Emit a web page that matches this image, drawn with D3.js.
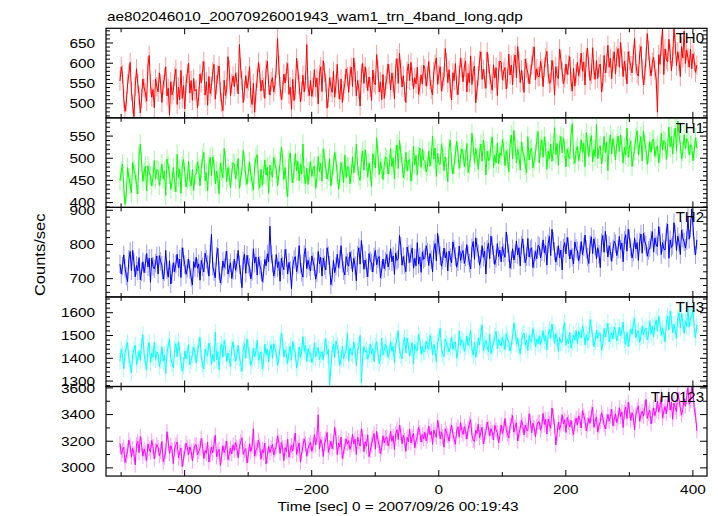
<!DOCTYPE html>
<html><head><meta charset="utf-8">
<script src="https://cdn.jsdelivr.net/npm/d3@7"></script>
<style>body{margin:0;background:#fff;}svg{display:block;}text{font-family:"Liberation Sans",Arial,Helvetica,sans-serif;fill:#000;}</style>
</head><body><svg id="c" width="718" height="516"></svg>
<script>
const title = "ae802046010_20070926001943_wam1_trn_4band_long.qdp";
const xLabel = "Time [sec] 0 = 2007/09/26 00:19:43";
const yLabel = "Counts/sec";
const seriesNames = ["TH0","TH1","TH2","TH3","TH0123"];
const timeStart = -501;
const binSize = 2;

const th0 = [
555,590,571,512,480,503,548,572,601,530,498,467,541,585,549,520,476,512,560,538,526,505,592,618,547,515,534,489,560,541,
528,575,548,502,545,563,590,518,537,471,553,521,532,566,584,497,540,509,581,512,544,486,548,573,599,525,556,507,561,530,
534,489,517,572,551,580,603,520,553,495,566,524,541,578,596,510,546,571,592,528,502,482,557,519,535,615,582,519,548,567,
541,575,552,523,645,587,556,502,531,568,537,555,590,514,497,549,478,526,562,601,574,530,557,539,512,583,604,546,520,553,
563,528,546,587,660,594,541,509,531,572,550,578,598,522,540,485,559,507,534,611,582,547,503,529,569,528,556,645,541,519,
556,517,539,583,540,562,498,571,590,529,605,576,552,488,514,563,541,527,579,515,547,596,534,510,560,502,531,548,585,566,
527,568,589,541,612,577,518,556,535,493,574,598,549,590,562,531,565,540,507,582,551,546,620,584,528,553,509,571,512,543,
560,597,572,533,575,551,511,586,610,549,624,583,540,568,529,502,579,597,556,601,566,535,563,548,589,522,541,570,548,594,
585,542,567,603,559,534,521,578,596,612,547,571,590,530,552,566,635,601,551,583,537,508,575,556,598,544,521,569,612,588,
553,589,604,528,574,551,617,546,579,592,501,533,568,605,627,559,584,560,537,626,598,571,548,532,595,562,588,519,580,604,
602,557,579,588,535,561,621,570,594,546,598,619,563,640,603,551,582,556,527,609,587,575,548,571,594,617,639,558,585,566,
566,603,585,541,589,612,628,573,549,552,606,581,520,590,568,561,634,607,578,548,563,597,571,594,615,553,530,586,542,573,
601,568,587,624,579,602,545,613,636,590,556,572,637,582,559,605,561,589,597,528,551,618,575,598,643,589,611,560,603,627,
572,616,635,589,650,611,566,604,582,548,627,605,593,575,618,660,598,573,567,621,640,584,545,569,612,672,631,590,568,601,
613,582,560,478,620,596,641,685,571,634,609,602,658,623,580,615,683,647,592,627,604,566,640,612,678,598,631,612,589,634,
585,622,603,576,594];

const th1 = [
448,470,486,432,395,421,478,455,439,421,489,472,462,440,418,503,531,490,447,468,481,425,482,466,459,437,455,494,452,473,
471,438,459,486,452,470,415,497,482,463,429,447,478,445,423,508,456,474,420,481,496,467,434,451,492,450,437,473,426,460,
464,491,475,437,476,498,512,448,466,425,483,501,459,502,484,441,470,452,419,488,470,455,521,493,446,478,460,432,467,489,
485,452,471,498,431,454,472,516,490,458,440,467,491,463,445,427,480,499,507,449,432,474,438,462,495,461,479,420,483,468,
456,501,485,473,437,460,489,524,497,451,478,436,412,495,511,466,443,474,509,470,492,448,486,463,531,459,441,477,440,468,
492,458,476,481,431,455,503,469,487,447,520,498,475,452,469,498,437,461,484,512,493,463,429,452,489,471,444,506,455,481,
478,441,463,502,466,488,531,483,458,449,497,515,472,518,491,456,488,470,435,509,494,477,545,508,462,491,475,451,483,502,
498,463,485,521,480,499,452,507,529,476,539,511,489,455,473,512,470,493,496,447,468,526,484,505,461,503,522,478,519,495,
492,468,481,515,481,503,549,497,522,458,510,487,485,530,512,471,502,478,446,521,540,489,463,485,508,537,511,476,499,520,
513,480,498,532,467,485,501,555,527,489,521,503,474,509,531,492,540,516,461,515,493,497,528,547,478,506,488,533,486,511,
505,541,523,482,516,499,468,530,551,497,562,529,488,519,505,472,536,514,504,483,466,548,495,517,521,477,494,510,538,559,
488,523,540,501,547,526,474,515,497,531,492,514,568,507,532,483,529,548,511,545,521,479,520,502,498,552,577,505,487,516,
526,494,512,541,512,533,480,557,529,503,534,550,491,519,503,575,498,521,527,486,507,548,512,536,471,530,552,509,543,524,
495,532,549,514,551,527,488,523,506,567,501,524,538,480,503,516,545,561,507,529,548,493,560,535,518,485,509,536,512,540,
541,503,520,527,489,511,555,518,539,536,496,522,569,524,548,508,545,567,515,583,551,530,497,514,552,521,543,538,506,529,
528,493,517,545,522];

const th2 = [
741,712,735,768,729,706,690,755,778,722,781,747,704,737,721,760,695,719,748,716,742,772,733,758,688,759,735,727,744,765,
712,766,749,738,697,719,781,724,703,751,683,712,745,719,741,770,731,756,702,789,762,740,711,729,756,725,702,680,748,731,
761,729,742,694,752,733,718,773,755,740,706,771,828,735,719,701,764,787,722,686,708,750,731,752,779,712,729,745,699,723,
756,723,744,781,739,712,672,751,770,714,767,741,732,698,719,786,744,762,709,761,738,725,690,713,755,736,771,748,852,769,
744,706,727,769,731,748,691,758,736,725,784,759,712,746,723,669,737,754,763,719,740,795,741,717,703,770,788,728,752,734,
721,765,748,733,697,715,778,742,761,706,759,737,724,789,766,738,681,703,752,716,735,770,731,754,795,744,722,709,763,745,
735,776,754,719,758,737,692,767,789,741,810,771,726,753,730,704,772,751,745,718,762,781,739,757,763,701,724,756,728,749,
769,733,751,786,748,765,711,774,752,757,825,794,738,763,740,719,791,770,746,772,788,729,758,736,804,741,762,717,777,755,
760,795,776,737,772,754,718,783,801,751,831,797,766,735,752,788,759,776,721,779,760,745,806,784,763,732,748,794,752,771,
781,743,762,798,766,744,727,789,807,755,818,790,772,738,756,795,761,779,712,784,803,757,823,795,769,740,758,801,763,782,
748,792,774,761,835,801,774,729,752,786,753,771,809,768,789,736,797,815,771,745,763,816,762,784,789,731,755,778,757,796,
793,759,777,812,774,795,738,801,822,766,843,808,779,747,765,795,760,782,724,788,804,771,819,792,756,783,761,742,806,787,
780,751,769,807,769,791,826,784,762,743,798,821,772,815,794,757,789,770,731,804,825,776,837,801,762,795,778,749,786,808,
801,766,784,822,784,803,748,811,827,779,843,815,791,759,776,818,785,804,752,806,829,773,831,808,797,764,781,789,812,836,
776,818,797,792,851,822,769,804,786,782,835,858,758,812,790,796,862,829,781,823,804,769,841,817,806,788,810,878,814,846,
902,851,795,768,812];

const th3 = [
1385,1438,1411,1352,1421,1446,1467,1397,1372,1334,1412,1435,1455,1371,1399,1428,1389,1452,1502,1415,1381,1348,1443,1467,1379,1420,1401,1468,1393,1426,
1417,1362,1390,1449,1386,1412,1331,1425,1453,1481,1398,1374,1356,1437,1462,1404,1470,1431,1382,1341,1366,1429,1395,1418,1458,1368,1389,1414,1447,1423,
1376,1423,1456,1490,1397,1372,1351,1438,1417,1409,1465,1441,1372,1415,1384,1512,1392,1427,1347,1431,1460,1403,1476,1445,1384,1421,1398,1361,1444,1470,
1419,1385,1408,1456,1402,1376,1340,1437,1462,1398,1483,1440,1411,1366,1391,1442,1405,1429,1477,1389,1412,1426,1352,1381,1460,1414,1437,1381,1435,1458,
1398,1462,1440,1421,1367,1394,1448,1509,1471,1403,1436,1413,1375,1425,1452,1390,1471,1438,1419,1356,1381,1447,1402,1426,1493,1428,1455,1384,1440,1417,
1421,1378,1402,1466,1403,1429,1445,1392,1414,1427,1392,1448,1484,1415,1437,1281,1358,1439,1461,1401,1474,1452,1420,1367,1395,1452,1396,1418,1431,1509,
1387,1443,1421,1412,1470,1439,1366,1428,1455,1498,1290,1405,1449,1426,1432,1394,1417,1461,1418,1440,1383,1452,1471,1426,1375,1401,1487,1412,1436,1459,
1446,1401,1425,1472,1428,1451,1379,1455,1482,1518,1434,1411,1396,1467,1489,1421,1487,1452,1408,1443,1466,1372,1459,1436,1430,1503,1478,1415,1449,1427,
1427,1474,1452,1436,1498,1471,1412,1459,1437,1381,1467,1490,1530,1440,1418,1404,1483,1461,1451,1426,1448,1492,1437,1466,1469,1398,1425,1518,1455,1479,
1471,1428,1450,1496,1453,1476,1520,1437,1411,1469,1402,1436,1487,1456,1509,1544,1431,1458,1475,1448,1427,1505,1419,1446,1462,1493,1517,1441,1480,1463,
1452,1491,1470,1436,1507,1482,1468,1429,1455,1494,1552,1519,1461,1488,1443,1417,1476,1500,1509,1455,1478,1432,1498,1473,1470,1527,1496,1448,1481,1462,
1496,1458,1481,1519,1473,1497,1435,1502,1524,1486,1548,1511,1462,1507,1485,1427,1491,1466,1470,1531,1554,1455,1483,1462,1512,1442,1471,1499,1478,1520,
1463,1517,1495,1488,1540,1513,1456,1502,1478,1479,1568,1530,1494,1448,1472,1521,1486,1509,1507,1433,1461,1529,1491,1516,1552,1470,1497,1509,1482,1535,
1518,1474,1497,1533,1496,1520,1556,1481,1459,1512,1449,1486,1527,1503,1545,1575,1488,1510,1520,1467,1494,1541,1499,1523,1530,1478,1502,1563,1506,1537,
1492,1543,1566,1517,1581,1549,1498,1529,1505,1470,1556,1583,1522,1604,1569,1511,1547,1520,1486,1573,1598,1530,1595,1557,1508,1562,1537,1621,1534,1578,
1578,1612,1525,1489,1546];

const th0123 = [
3180,3098,3127,3152,3036,3085,3121,3205,3164,3077,3143,3102,3019,3168,3197,3110,3231,3174,3084,3139,3106,3052,3176,3138,3115,3201,3157,3064,3128,3172,
3150,3087,3118,3194,3041,3076,3122,3268,3187,3105,3163,3131,3028,3139,3170,3191,3072,3113,3146,3005,3068,3117,3182,3147,3096,3155,3120,3049,3124,3166,
3171,3093,3120,3142,3218,3161,3066,3127,3104,3189,3040,3098,3152,3108,3177,3241,3079,3115,3136,3015,3084,3163,3112,3140,3198,3058,3103,3145,3101,3169,
3128,3186,3149,3072,3154,3191,3222,3097,3126,3141,3033,3095,3176,3119,3158,3290,3085,3130,3148,3204,3167,3061,3133,3108,3182,3026,3090,3157,3110,3143,
3173,3092,3131,3158,3236,3190,3104,3187,3146,3051,3149,3118,3211,3077,3125,3165,3122,3193,3258,3098,3142,3184,3039,3108,3160,3214,3176,3083,3142,3170,
3188,3121,3163,3246,3170,3221,3395,3137,3209,3176,3082,3175,3214,3262,3113,3150,3196,3140,3188,3301,3229,3095,3183,3152,3228,3067,3119,3159,3214,3176,
3201,3134,3170,3248,3175,3212,3097,3226,3191,3160,3289,3230,3118,3193,3158,3244,3081,3127,3172,3219,3254,3136,3270,3203,3164,3102,3149,3237,3185,3221,
3228,3162,3197,3271,3195,3236,3134,3252,3283,3209,3318,3262,3176,3241,3203,3120,3226,3191,3288,3183,3227,3255,3147,3198,3232,3301,3263,3190,3246,3215,
3263,3198,3236,3309,3244,3271,3172,3281,3248,3226,3352,3297,3215,3267,3230,3151,3290,3256,3238,3196,3270,3318,3251,3209,3174,3282,3305,3229,3335,3277,
3247,3306,3271,3212,3289,3325,3358,3241,3203,3195,3279,3254,3326,3223,3264,3301,3176,3232,3268,3340,3296,3238,3292,3263,3205,3317,3281,3259,3186,3240,
3318,3254,3289,3367,3282,3250,3221,3311,3344,3389,3264,3301,3335,3198,3253,3296,3352,3317,3243,3318,3280,3276,3402,3349,3259,3331,3296,3230,3305,3341,
3341,3279,3312,3405,3322,3360,3251,3364,3327,3293,3446,3381,3310,3168,3254,3338,3285,3319,3396,3326,3357,3262,3375,3338,3305,3353,3291,3247,3332,3370,
3318,3387,3352,3296,3425,3389,3351,3274,3320,3368,3330,3403,3451,3302,3348,3379,3265,3311,3344,3410,3376,3321,3288,3345,3396,3347,3381,3436,3312,3364,
3402,3336,3371,3448,3381,3417,3299,3415,3452,3367,3489,3426,3352,3410,3376,3281,3395,3431,3462,3347,3394,3421,3384,3447,3510,3368,3405,3429,3326,3389,
3447,3389,3425,3498,3415,3462,3530,3372,3421,3456,3403,3477,3541,3430,3488,3361,3482,3449,3418,3562,3509,3445,3394,3436,3515,3460,3527,3598,3473,3502,
3605,3552,3440,3391,3275];

const errors = [24, 22, 27, 38, 57];
const yDomains = [[464,685],[388,590],[645,907],[1274,1667],[2935,3607]];
const yMajorTicks = [[500,550,600,650],[400,450,500,550],[700,800,900],[1300,1400,1500,1600],[3000,3200,3400,3600]];
const yMinorSteps = [10,10,20,20,100];
const xDomain = [-523, 423];
const xMajorTicks = [-400,-200,0,200,400];
const xMinorTicks = [-500,-300,-100,100,300];

const allSeries = [th0, th1, th2, th3, th0123];
const colors = ["#ff0000","#00ff00","#0000ff","#00ffff","#ff00ff"];
const L = 106, R = 707, T = 28.3, PH = 89.55;
const FONT = '"Liberation Sans",Arial,Helvetica,sans-serif';
const sx = 1.18;

const svg = d3.select("#c");
const x = d3.scaleLinear().domain(xDomain).range([L, R]);

function styleAxis(g){
  g.attr("font-family", FONT).attr("font-size", 13);
  g.select(".domain").remove();
  g.selectAll("line").attr("stroke", "#000");
}

allSeries.forEach((vals, k) => {
  const top = T + k*PH, bot = top + PH;
  const y = d3.scaleLinear().domain(yDomains[k]).range([bot, top]);
  const id = "clip" + k;
  svg.append("clipPath").attr("id", id).append("rect")
    .attr("x", L).attr("y", top).attr("width", R-L).attr("height", PH);
  const g = svg.append("g").attr("clip-path", `url(#${id})`);
  const pts = vals.map((v, i) => ({t: timeStart + i*binSize, v}));
  const e = errors[k];
  g.selectAll("line.err").data(pts).join("line").attr("class","err")
    .attr("x1", d => x(d.t)).attr("x2", d => x(d.t))
    .attr("y1", d => y(d.v - e)).attr("y2", d => y(d.v + e))
    .attr("stroke", colors[k]).attr("stroke-opacity", 0.4).attr("stroke-width", 1);
  g.append("path").datum(pts)
    .attr("d", d3.line().x(d => x(d.t)).y(d => y(d.v)))
    .attr("fill", "none").attr("stroke", colors[k]).attr("stroke-width", 1);

  const [lo, hi] = yDomains[k];
  const st = yMinorSteps[k];
  const minors = d3.range(Math.ceil(lo/st)*st, hi, st).filter(v => !yMajorTicks[k].includes(v));

  const yl = svg.append("g").attr("transform", `translate(${L},0)`)
    .call(d3.axisLeft(y).tickValues(yMajorTicks[k]).tickSize(-7).tickPadding(0).tickFormat(d3.format("d")));
  styleAxis(yl);
  yl.selectAll("text").attr("x", null).attr("dy", null)
    .attr("transform", `translate(-11,4.6) scale(${sx},1)`);
  const ylm = svg.append("g").attr("transform", `translate(${L},0)`)
    .call(d3.axisLeft(y).tickValues(minors).tickSize(-4).tickFormat(""));
  styleAxis(ylm);
  const yr = svg.append("g").attr("transform", `translate(${R},0)`)
    .call(d3.axisRight(y).tickValues(yMajorTicks[k]).tickSize(-7).tickFormat(""));
  styleAxis(yr);
  const yrm = svg.append("g").attr("transform", `translate(${R},0)`)
    .call(d3.axisRight(y).tickValues(minors).tickSize(-4).tickFormat(""));
  styleAxis(yrm);
  const xt = svg.append("g").attr("transform", `translate(0,${top})`)
    .call(d3.axisTop(x).tickValues(xMajorTicks).tickSize(-6).tickFormat(""));
  styleAxis(xt);
  const xtm = svg.append("g").attr("transform", `translate(0,${top})`)
    .call(d3.axisTop(x).tickValues(xMinorTicks).tickSize(-4).tickFormat(""));
  styleAxis(xtm);
  const xb = svg.append("g").attr("transform", `translate(0,${bot})`)
    .call(d3.axisBottom(x).tickValues(xMajorTicks).tickSize(-6).tickPadding(0)
      .tickFormat(k === allSeries.length-1 ? d3.format("d") : ""));
  styleAxis(xb);
  xb.selectAll("text").attr("y", null).attr("dy", null)
    .attr("transform", `translate(0,18) scale(${sx},1)`);
  const xbm = svg.append("g").attr("transform", `translate(0,${bot})`)
    .call(d3.axisBottom(x).tickValues(xMinorTicks).tickSize(-4).tickFormat(""));
  styleAxis(xbm);

  svg.append("rect").attr("x", L).attr("y", top).attr("width", R-L).attr("height", PH)
    .attr("fill", "none").attr("stroke", "#000").attr("stroke-width", 1.2);

  svg.append("text").attr("x", 704).attr("y", top + 15).attr("text-anchor", "end")
    .attr("font-size", 15).attr("font-family", FONT).text(seriesNames[k]);
});

svg.append("text").attr("transform", `translate(107,20.5) scale(${sx},1)`)
  .attr("font-size", 13).attr("font-family", FONT).text(title);
svg.append("text").attr("transform", `translate(398,511) scale(${sx},1)`)
  .attr("text-anchor", "middle").attr("font-size", 13).attr("font-family", FONT).text(xLabel);
svg.append("text").attr("transform", `translate(45,254.8) rotate(-90) scale(${sx},1)`)
  .attr("text-anchor", "middle").attr("font-size", 14).attr("font-family", FONT).text(yLabel);
</script></body></html>
